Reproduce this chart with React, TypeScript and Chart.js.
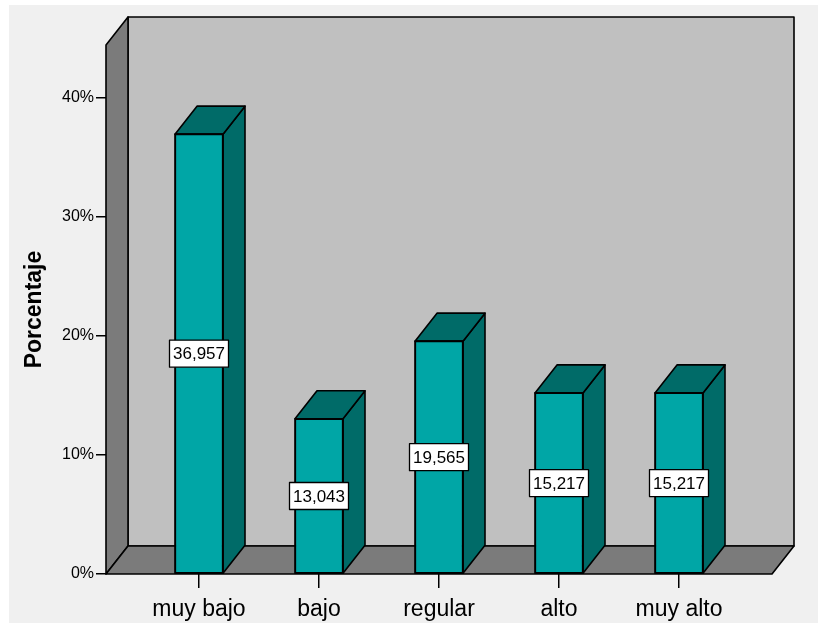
import React, { useEffect, useRef } from 'react';
import { Chart, registerables } from 'chart.js';

Chart.register(...registerables);

const categories = ['muy bajo', 'bajo', 'regular', 'alto', 'muy alto'];
const percentages = [36.957, 13.043, 19.565, 15.217, 15.217];
const valueLabels = ['36,957', '13,043', '19,565', '15,217', '15,217'];
const yTicks = [0, 10, 20, 30, 40];
const yMax = 44.45;

const FONT = "'Liberation Sans', Arial, Helvetica, sans-serif";
const DX = 22;
const DY = 28;
const FRONT = '#00a6a6';
const DARK = '#006b68';
const WALL = '#c0c0c0';
const SIDE = '#7b7b7b';

function poly(ctx: CanvasRenderingContext2D, pts: number[][], fill: string) {
  ctx.beginPath();
  ctx.moveTo(pts[0][0], pts[0][1]);
  for (let i = 1; i < pts.length; i++) ctx.lineTo(pts[i][0], pts[i][1]);
  ctx.closePath();
  ctx.fillStyle = fill;
  ctx.fill();
  ctx.stroke();
}

const threeD = {
  id: 'threeD',
  beforeDraw(chart: any) {
    const { ctx, width, height } = chart;
    ctx.save();
    ctx.fillStyle = '#ffffff';
    ctx.fillRect(0, 0, width, height);
    ctx.fillStyle = '#f0f0f0';
    ctx.fillRect(9, 5, width - 9, 618);
    ctx.restore();
  },
  beforeDatasetsDraw(chart: any) {
    const { ctx } = chart;
    const { left, right, top, bottom } = chart.chartArea;
    ctx.save();
    ctx.strokeStyle = '#000';
    ctx.lineWidth = 1.6;
    ctx.lineJoin = 'round';
    poly(ctx, [[left + DX, top - DY], [right + DX, top - DY], [right + DX, bottom - DY], [left + DX, bottom - DY]], WALL);
    poly(ctx, [[left, top], [left + DX, top - DY], [left + DX, bottom - DY], [left, bottom]], SIDE);
    poly(ctx, [[left, bottom], [left + DX, bottom - DY], [right + DX, bottom - DY], [right, bottom]], SIDE);
    ctx.restore();
  },
  afterDatasetsDraw(chart: any) {
    const { ctx } = chart;
    const meta = chart.getDatasetMeta(0);
    ctx.save();
    ctx.strokeStyle = '#000';
    ctx.lineWidth = 1.6;
    ctx.lineJoin = 'round';
    meta.data.forEach((bar: any) => {
      const { x, y, base, width } = bar.getProps(['x', 'y', 'base', 'width'], true);
      const l = x - width / 2;
      const r = x + width / 2;
      poly(ctx, [[r, y], [r + DX, y - DY], [r + DX, base - DY], [r, base]], DARK);
      poly(ctx, [[l, y], [l + DX, y - DY], [r + DX, y - DY], [r, y]], DARK);
      ctx.beginPath();
      ctx.rect(l, y, width, base - y);
      ctx.stroke();
    });
    ctx.font = `17px ${FONT}`;
    ctx.textAlign = 'center';
    ctx.textBaseline = 'middle';
    meta.data.forEach((bar: any, i: number) => {
      const { x, y, base } = bar.getProps(['x', 'y', 'base'], true);
      const cy = (y + base) / 2;
      const text = valueLabels[i];
      const tw = ctx.measureText(text).width;
      const bw = tw + 7;
      const bh = 27;
      ctx.fillStyle = '#ffffff';
      ctx.fillRect(x - bw / 2, cy - bh / 2, bw, bh);
      ctx.lineWidth = 1.3;
      ctx.strokeRect(x - bw / 2, cy - bh / 2, bw, bh);
      ctx.fillStyle = '#000';
      ctx.fillText(text, x, cy + 1);
    });
    ctx.restore();
  },
};

export default function App() {
  const ref = useRef<HTMLCanvasElement | null>(null);
  useEffect(() => {
    document.body.style.margin = '0';
    const canvas = ref.current!;
    const chart = new Chart(canvas, {
      type: 'bar',
      data: {
        datasets: [
          {
            data: categories.map((c, i) => ({ x: i, y: percentages[i] })),
            backgroundColor: FRONT,
            borderColor: '#000',
            borderWidth: 1.5,
            borderSkipped: false,
            barThickness: 48,
          } as any,
        ],
      },
      options: {
        animation: false,
        responsive: false,
        devicePixelRatio: 1,
        layout: { padding: { top: 45, right: 46, left: 0, bottom: 0 } },
        plugins: { legend: { display: false }, tooltip: { enabled: false } },
        scales: {
          x: {
            type: 'linear',
            min: -0.775,
            max: 4.775,
            offset: false,
            afterBuildTicks: (s: any) => {
              s.ticks = categories.map((_, i) => ({ value: i }));
            },
            afterFit: (s: any) => {
              s.height = 52;
            },
            ticks: {
              callback: (_v: any, i: number) => categories[i],
              font: { family: FONT, size: 23 },
              color: '#000',
              padding: 8,
              maxRotation: 0,
              autoSkip: false,
            },
            grid: { offset: false, drawOnChartArea: false, drawTicks: true, tickLength: 14, color: '#000', lineWidth: 1.5 },
            border: { display: false },
          },
          y: {
            min: 0,
            max: yMax,
            afterBuildTicks: (s: any) => {
              s.ticks = yTicks.map((v) => ({ value: v }));
            },
            afterFit: (s: any) => {
              s.width = 106;
            },
            ticks: {
              callback: (v: any) => `${v}%`,
              font: { family: FONT, size: 16 },
              color: '#000',
              padding: 2,
            },
            grid: { drawOnChartArea: false, drawTicks: true, tickLength: 10, color: '#000', lineWidth: 1.5 },
            border: { display: false },
            title: {
              display: true,
              text: 'Porcentaje',
              font: { family: FONT, size: 23, weight: 'bold' },
              color: '#000',
              padding: { top: 21, bottom: 0 },
            },
          },
        },
      } as any,
      plugins: [threeD],
    });
    return () => chart.destroy();
  }, []);
  return (
    <div style={{ position: 'absolute', left: 0, top: 0 }}>
      <canvas ref={ref} width={818} height={626} style={{ display: 'block', width: 818, height: 626 }} />
    </div>
  );
}
